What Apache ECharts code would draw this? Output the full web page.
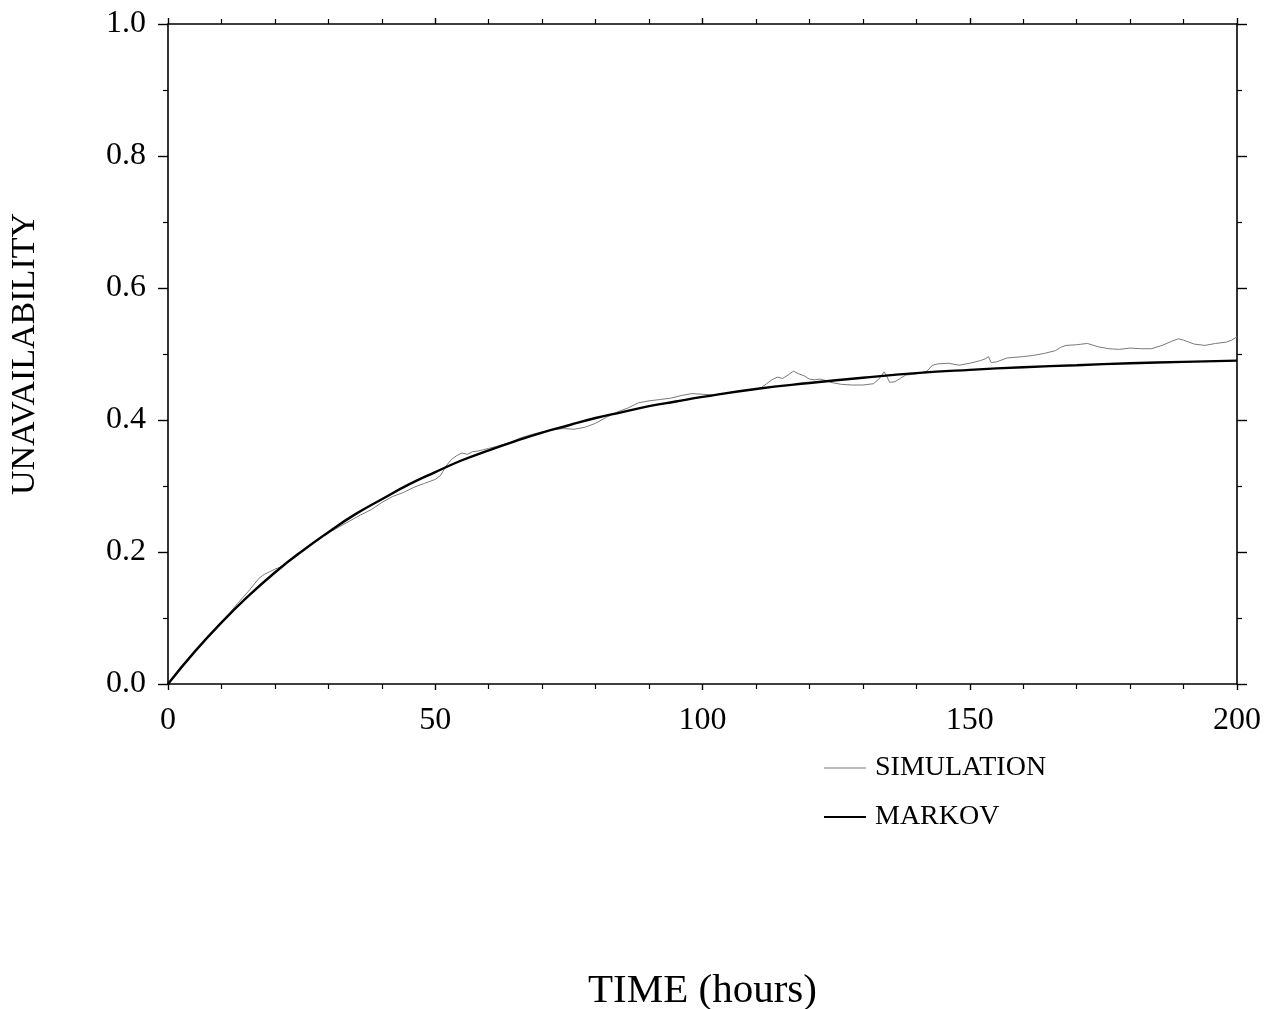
<!DOCTYPE html>
<html>
<head>
<meta charset="utf-8">
<script src="https://cdn.jsdelivr.net/npm/echarts@6/dist/echarts.min.js"></script>
<style>html,body{margin:0;padding:0;background:#fff}#c{width:1277px;height:1009px}</style>
</head>
<body>
<div id="c"></div>
<script>
// ---- data ----
const markovT = [0,5,10,15,20,25,30,35,40,45,50,55,60,65,70,75,80,85,90,95,100,110,120,130,140,150,160,170,180,190,200];
const markovU = [0,0.049,0.093,0.133,0.169,0.201,0.230,0.257,0.280,0.302,0.321,0.339,0.354,0.368,0.381,0.392,0.403,0.412,0.421,0.428,0.435,0.447,0.456,0.464,0.471,0.476,0.480,0.483,0.486,0.488,0.490];

const simT = [0,2,4,6,8,10,12,13,14,15,16,17,18,19,20,21,22,24,26,28,30,32,34,36,38,40,42,44,46,48,50,51,52,53,54,55,56,57,58,59,60,62,64,66,68,70,72,74,76,78,80,82,84,86,88,90,92,94,96,98,100,102,104,106,108,110,111,112,113,114,115,116,117,118,119,120,121,122,123,124,126,128,130,132,133,134,134.5,135,136,137,138,140,142,143,144,146,148,150,152,153,153.5,154,155,157,160,162,164,166,167,168,170,172,174,176,178,180,182,184,186,188,189,190,192,194,196,198,199,200];
const simU = [0,0.020,0.039,0.058,0.077,0.094,0.112,0.122,0.131,0.140,0.150,0.160,0.166,0.170,0.174,0.177,0.182,0.193,0.205,0.217,0.229,0.238,0.247,0.256,0.264,0.275,0.284,0.290,0.298,0.304,0.310,0.316,0.330,0.340,0.346,0.350,0.348,0.352,0.353,0.355,0.357,0.361,0.366,0.373,0.378,0.382,0.385,0.387,0.386,0.389,0.395,0.404,0.412,0.418,0.426,0.429,0.431,0.433,0.437,0.440,0.439,0.438,0.440,0.443,0.445,0.447,0.449,0.455,0.461,0.465,0.463,0.468,0.474,0.470,0.467,0.462,0.461,0.462,0.460,0.457,0.454,0.453,0.453,0.455,0.462,0.473,0.466,0.457,0.458,0.463,0.468,0.470,0.474,0.483,0.485,0.486,0.483,0.486,0.490,0.493,0.496,0.487,0.488,0.494,0.496,0.498,0.501,0.505,0.510,0.513,0.514,0.516,0.511,0.508,0.507,0.509,0.508,0.508,0.513,0.520,0.523,0.521,0.515,0.513,0.516,0.518,0.521,0.526];

const xTicks = [0, 50, 100, 150, 200];
const yTicks = [0.0, 0.2, 0.4, 0.6, 0.8, 1.0];

const FONT = 'Liberation Serif';
const chart = echarts.init(document.getElementById('c'), null, {renderer: 'canvas'});

function zip(a, b) { return a.map((v, i) => [v, b[i]]); }

const axisLineStyle = {color: '#000', width: 1.6};
const legendBase = {
  orient: 'vertical', left: 819, icon: 'rect', itemWidth: 42,
  textStyle: {fontFamily: FONT, fontSize: 28, color: '#000', padding: [0, 0, 0, 4]}
};
const option = {
  backgroundColor: '#fff',
  animation: false,
  grid: {left: 168, right: 40, top: 24, bottom: 325, containLabel: false, outerBoundsMode: 'none'},
  legend: [
    Object.assign({}, legendBase, {top: 749, itemHeight: 1, data: ['SIMULATION']}),
    Object.assign({}, legendBase, {top: 798, itemHeight: 2, data: ['MARKOV']})
  ],
  xAxis: [{
    type: 'value', min: xTicks[0], max: xTicks[xTicks.length - 1], interval: 50,
    position: 'bottom',
    name: 'TIME (hours)', nameLocation: 'middle', nameGap: 287,
    nameTextStyle: {fontFamily: FONT, fontSize: 41, color: '#000'},
    axisLine: {show: true, onZero: false, lineStyle: axisLineStyle},
    axisTick: {show: true, length: 6, lineStyle: {color: '#000', width: 1.4}},
    minorTick: {show: true, splitNumber: 5, length: 5, lineStyle: {color: '#000', width: 1.2}},
    axisLabel: {fontFamily: FONT, fontSize: 32, color: '#000', margin: 21},
    splitLine: {show: false}
  }, {
    type: 'value', min: xTicks[0], max: xTicks[xTicks.length - 1], interval: 50,
    position: 'top',
    axisLine: {show: true, onZero: false, lineStyle: axisLineStyle},
    axisTick: {show: true, length: 6, lineStyle: {color: '#000', width: 1.4}},
    minorTick: {show: true, splitNumber: 5, length: 5, lineStyle: {color: '#000', width: 1.2}},
    axisLabel: {show: false},
    splitLine: {show: false}
  }],
  yAxis: [{
    type: 'value', min: yTicks[0], max: yTicks[yTicks.length - 1], interval: 0.2,
    position: 'left',
    name: 'UNAVAILABILITY', nameLocation: 'middle', nameGap: 126, nameRotate: 90,
    nameTextStyle: {fontFamily: FONT, fontSize: 34, color: '#000'},
    axisLine: {show: true, onZero: false, lineStyle: axisLineStyle},
    axisTick: {show: true, length: 10, lineStyle: {color: '#000', width: 1.4}},
    minorTick: {show: true, splitNumber: 2, length: 5, lineStyle: {color: '#000', width: 1.2}},
    axisLabel: {fontFamily: FONT, fontSize: 32, color: '#000', margin: 22,
      formatter: v => v.toFixed(1)},
    splitLine: {show: false}
  }, {
    type: 'value', min: yTicks[0], max: yTicks[yTicks.length - 1], interval: 0.2,
    position: 'right',
    axisLine: {show: true, onZero: false, lineStyle: axisLineStyle},
    axisTick: {show: true, length: 10, lineStyle: {color: '#000', width: 1.4}},
    minorTick: {show: true, splitNumber: 2, length: 5, lineStyle: {color: '#000', width: 1.2}},
    axisLabel: {show: false},
    splitLine: {show: false}
  }],
  series: [{
    name: 'SIMULATION', type: 'line', xAxisIndex: 0, yAxisIndex: 0,
    data: zip(simT, simU), showSymbol: false, symbol: 'none', smooth: false,
    lineStyle: {color: '#7a7a7a', width: 1},
    itemStyle: {color: '#7a7a7a'},
    z: 2
  }, {
    name: 'MARKOV', type: 'line', xAxisIndex: 0, yAxisIndex: 0,
    data: zip(markovT, markovU), showSymbol: false, symbol: 'none', smooth: true,
    lineStyle: {color: '#000', width: 2.4},
    itemStyle: {color: '#000'},
    z: 3
  }]
};
chart.setOption(option);
</script>
</body>
</html>
